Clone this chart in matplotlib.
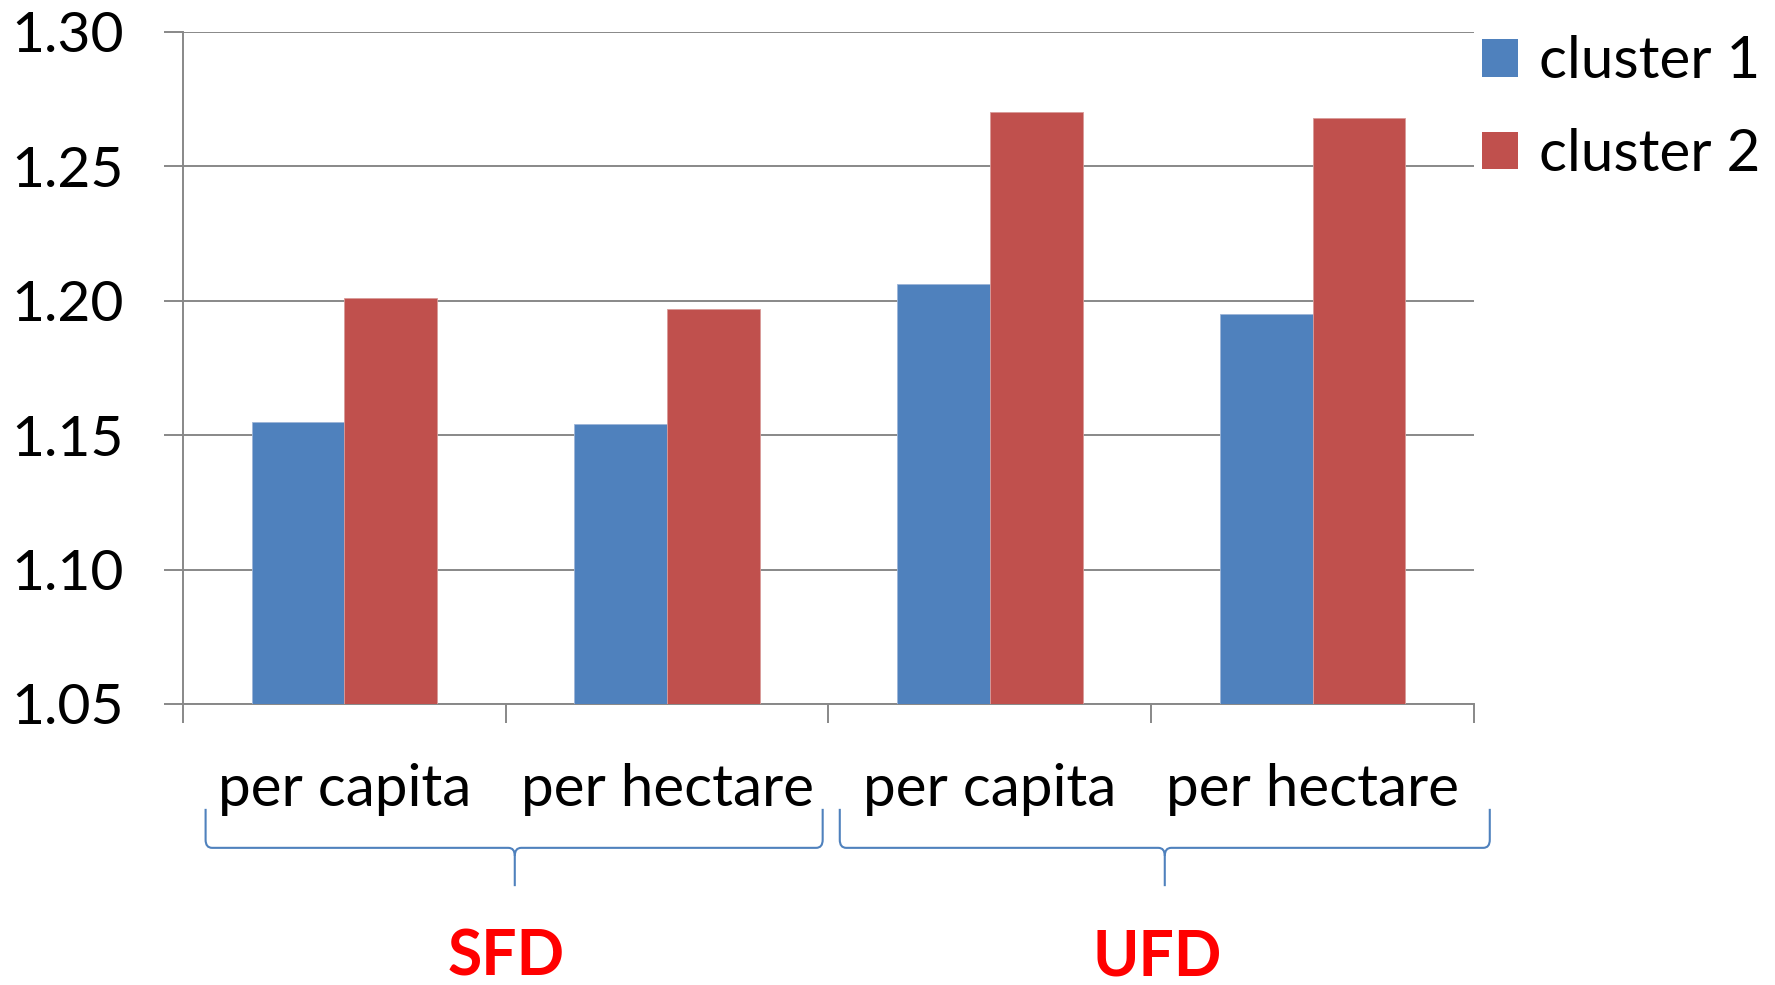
import matplotlib
matplotlib.use("Agg")
import matplotlib.pyplot as plt
import numpy as np
from matplotlib.path import Path
from matplotlib.patches import PathPatch, Patch
from matplotlib.transforms import blended_transform_factory

categories = ["per capita", "per hectare", "per capita", "per hectare"]
groups = ["SFD", "UFD"]
series_names = ["cluster 1", "cluster 2"]
cluster1 = [1.155, 1.154, 1.206, 1.195]
cluster2 = [1.201, 1.197, 1.270, 1.268]
yticks = [1.05, 1.10, 1.15, 1.20, 1.25, 1.30]

plt.rcParams['font.family'] = ['Lato', 'DejaVu Sans']

BLUE = "#4F81BD"
RED = "#C0504D"
GRID = "#888888"

fig = plt.figure(figsize=(17.75, 9.85), dpi=100)
ax = fig.add_axes([0.1031, 0.2853, 0.7273, 0.6825])

x = np.arange(len(categories))
w = 0.2877
ax.bar(x - w/2, np.array(cluster1) - 1.05, width=w, bottom=1.05, color=BLUE,
       edgecolor="#9db5d8", linewidth=0.6, zorder=3)
ax.bar(x + w/2, np.array(cluster2) - 1.05, width=w, bottom=1.05, color=RED,
       edgecolor="#d99a98", linewidth=0.6, zorder=3)

ax.set_xlim(-0.5, 3.5)
ax.set_ylim(1.05, 1.30)
ax.set_yticks(yticks)
ax.set_yticklabels([f"{v:.2f}" for v in yticks], fontsize=41)
ax.set_xticks(np.arange(-0.5, 3.6, 1.0))
ax.set_xticklabels([])
ax.tick_params(axis='y', length=13.5, width=1.4, color=GRID, pad=29)
ax.tick_params(axis='x', length=13.5, width=1.4, color=GRID)
ax.yaxis.grid(True, color=GRID, linewidth=1.4, zorder=0)
ax.set_axisbelow(True)
for s in ["top", "right"]:
    ax.spines[s].set_visible(False)
for s in ["left", "bottom"]:
    ax.spines[s].set_color(GRID)
    ax.spines[s].set_linewidth(1.4)

trans = blended_transform_factory(ax.transData, ax.transAxes)

for i, c in enumerate(categories):
    ax.text(x[i], -0.127, c, transform=trans, ha='center', va='center',
            fontsize=42, clip_on=False)

def brace(x0, x1, xm, ytop, ymid, ytip, r=0.012, rx=0.02):
    verts = [
        (x0, ytop), (x0, ymid + r), (x0, ymid), (x0 + rx, ymid),
        (xm - rx, ymid), (xm, ymid), (xm, ymid - r), (xm, ytip),
    ]
    codes = [Path.MOVETO, Path.LINETO, Path.CURVE3, Path.CURVE3,
             Path.LINETO, Path.CURVE3, Path.CURVE3, Path.LINETO]
    verts2 = [
        (x1, ytop), (x1, ymid + r), (x1, ymid), (x1 - rx, ymid),
        (xm + rx, ymid), (xm, ymid), (xm, ymid - r),
    ]
    codes2 = [Path.MOVETO, Path.LINETO, Path.CURVE3, Path.CURVE3,
              Path.LINETO, Path.CURVE3, Path.CURVE3]
    for v, cds in ((verts, codes), (verts2, codes2)):
        p = PathPatch(Path(v, cds), transform=trans, fill=False,
                      edgecolor=BLUE, linewidth=1.5, clip_on=False)
        ax.add_patch(p)

brace(-0.43, 1.482, 0.528, -0.156, -0.214, -0.271)
brace(1.535, 3.549, 2.542, -0.156, -0.214, -0.271)

group_x = [0.5, 2.52]
for gx, g in zip(group_x, groups):
    ax.text(gx, -0.377, g, transform=trans, ha='center', va='center',
            fontsize=45, fontweight='bold', color='red', clip_on=False)

handles = [Patch(facecolor=BLUE), Patch(facecolor=RED)]
fig.legend(handles, series_names, loc='upper left',
           bbox_to_anchor=(0.835, 0.964), frameon=False, fontsize=42,
           handlelength=0.62, handleheight=0.62, handletextpad=0.35,
           labelspacing=0.68, borderpad=0, borderaxespad=0)

fig.savefig("out.png", dpi=100)
